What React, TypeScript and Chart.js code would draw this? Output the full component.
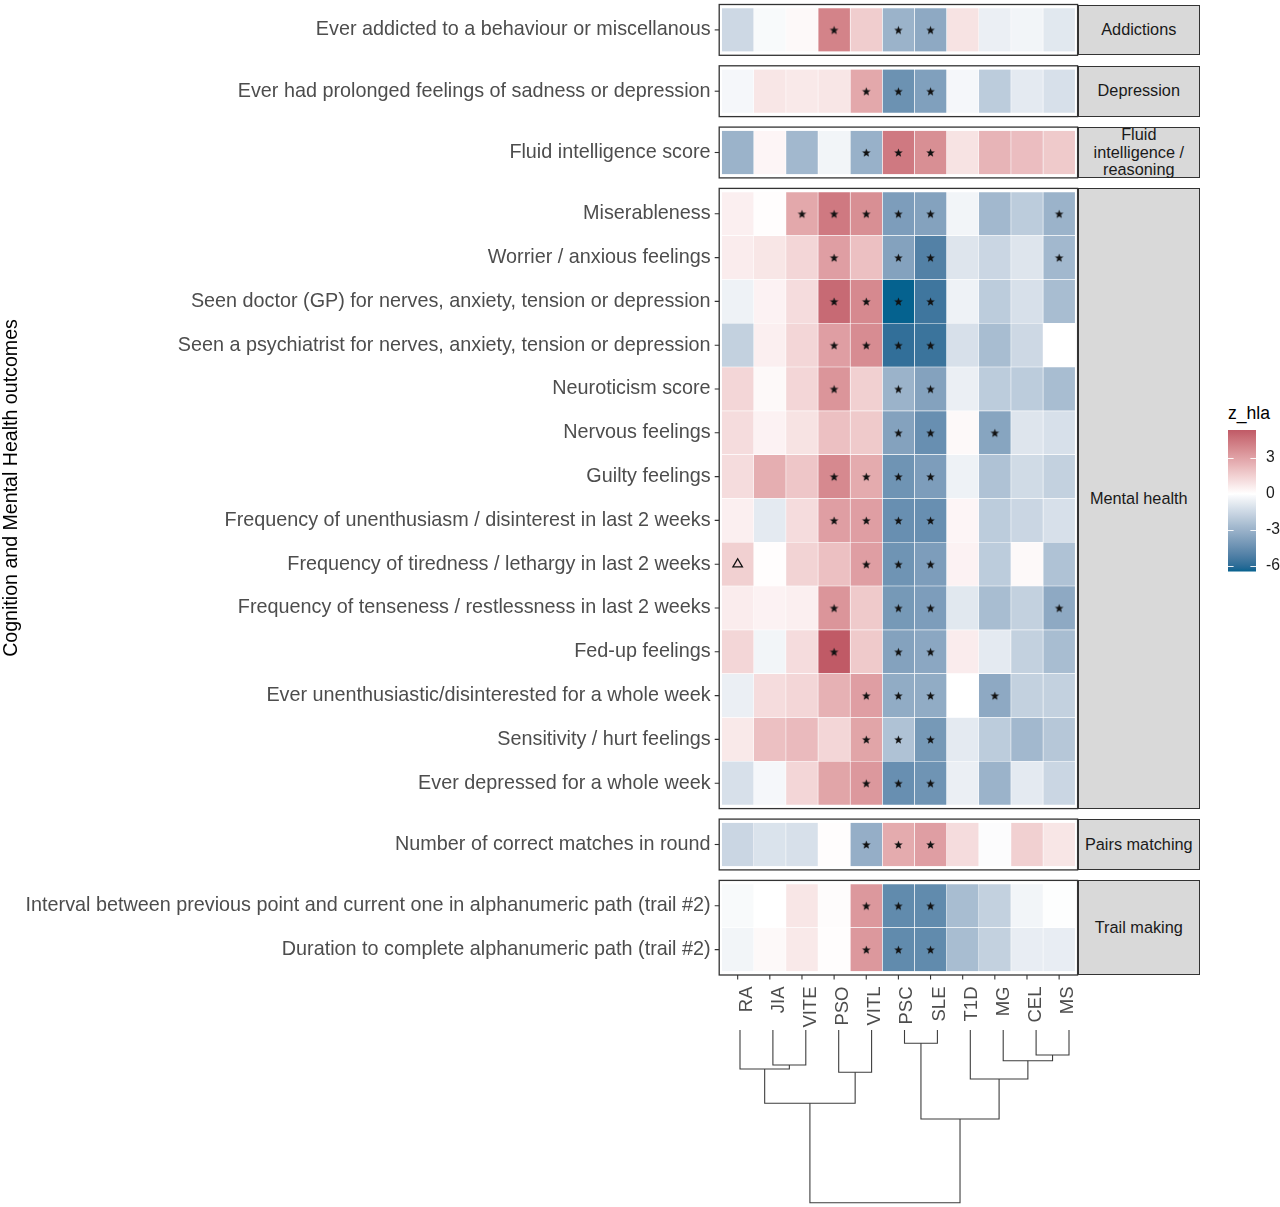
import React, { useEffect, useRef } from 'react';
import Chart from 'chart.js/auto';

const FONT = "'Liberation Sans', Arial, Helvetica, sans-serif";
Chart.defaults.font.family = FONT;

// ---------- data ----------
const DISEASES = ['RA', 'JIA', 'VITE', 'PSO', 'VITL', 'PSC', 'SLE', 'T1D', 'MG', 'CEL', 'MS'];

const ADDICTION_ROWS = ['Ever addicted to a behaviour or miscellanous'];
const ADDICTION_Z = [[-1.5, -0.2, 0.2, 4.0, 1.6, -3.0, -3.4, 0.9, -0.6, -0.4, -0.9]];
const ADDICTION_SIG = ['...*.**....'];

const DEPRESSION_ROWS = ['Ever had prolonged feelings of sadness or depression'];
const DEPRESSION_Z = [[-0.3, 0.8, 0.7, 0.8, 2.8, -4.4, -3.8, -0.3, -2.0, -0.8, -1.2]];
const DEPRESSION_SIG = ['....***....'];

const FLUID_ROWS = ['Fluid intelligence score'];
const FLUID_Z = [[-3.0, 0.3, -2.8, -0.4, -3.1, 4.3, 3.6, 0.9, 2.4, 2.1, 1.7]];
const FLUID_SIG = ['....***....'];

const MENTAL_ROWS = [
  'Miserableness',
  'Worrier / anxious feelings',
  'Seen doctor (GP) for nerves, anxiety, tension or depression',
  'Seen a psychiatrist for nerves, anxiety, tension or depression',
  'Neuroticism score',
  'Nervous feelings',
  'Guilty feelings',
  'Frequency of unenthusiasm / disinterest in last 2 weeks',
  'Frequency of tiredness / lethargy in last 2 weeks',
  'Frequency of tenseness / restlessness in last 2 weeks',
  'Fed-up feelings',
  'Ever unenthusiastic/disinterested for a whole week',
  'Sensitivity / hurt feelings',
  'Ever depressed for a whole week',
];
const MENTAL_Z = [
  [0.5, 0.05, 2.8, 4.3, 3.6, -3.9, -3.7, -0.4, -2.8, -2.0, -3.0],
  [0.6, 0.8, 1.3, 3.1, 2.0, -3.7, -5.1, -1.0, -1.6, -1.0, -2.8],
  [-0.5, 0.4, 1.1, 4.8, 3.8, -6.5, -5.6, -0.5, -2.0, -1.2, -2.6],
  [-1.8, 0.5, 1.3, 3.1, 3.7, -5.9, -5.7, -1.2, -2.6, -1.5, 0.0],
  [1.3, 0.2, 1.3, 3.4, 1.5, -3.0, -3.7, -0.6, -2.0, -2.0, -2.6],
  [1.1, 0.4, 0.9, 2.0, 1.7, -3.7, -4.5, 0.2, -3.6, -1.0, -1.2],
  [1.1, 2.6, 1.8, 3.8, 2.7, -4.3, -3.9, -0.5, -2.4, -1.4, -1.8],
  [0.5, -0.8, 1.1, 3.1, 3.1, -4.5, -4.5, 0.3, -2.0, -1.6, -1.2],
  [1.5, 0.05, 1.4, 2.0, 3.1, -4.3, -3.9, 0.4, -2.0, 0.2, -2.4],
  [0.6, 0.4, 0.5, 3.4, 1.7, -4.1, -3.9, -0.9, -2.6, -1.8, -3.4],
  [1.3, -0.4, 1.1, 5.3, 1.7, -3.7, -3.5, 0.6, -0.8, -1.8, -2.6],
  [-0.6, 1.1, 1.3, 2.5, 3.1, -3.3, -3.3, 0.0, -3.4, -1.8, -1.8],
  [0.7, 2.0, 2.2, 1.3, 2.9, -2.4, -4.1, -0.8, -2.0, -2.8, -2.2],
  [-1.2, -0.3, 1.3, 2.9, 3.3, -4.5, -4.3, -0.6, -3.0, -0.8, -1.6],
];
const MENTAL_SIG = [
  '..*****...*',
  '...*.**...*',
  '...****....',
  '...****....',
  '...*.**....',
  '.....**.*..',
  '...****....',
  '...****....',
  '^...***....',
  '...*.**...*',
  '...*.**....',
  '....***.*..',
  '....***....',
  '....***....',
];

const PAIRS_ROWS = ['Number of correct matches in round'];
const PAIRS_Z = [[-1.6, -1.1, -1.2, 0.05, -3.2, 2.7, 3.1, 1.1, -0.1, 1.5, 0.8]];
const PAIRS_SIG = ['....***....'];

const TRAIL_ROWS = [
  'Interval between previous point and current one in alphanumeric path (trail #2)',
  'Duration to complete alphanumeric path (trail #2)',
];
const TRAIL_Z = [
  [-0.2, 0.0, 0.8, 0.1, 3.3, -4.7, -4.7, -2.6, -1.8, -0.4, -0.05],
  [-0.4, 0.2, 0.7, 0.05, 3.3, -4.7, -4.7, -2.6, -1.8, -0.7, -0.7],
];
const TRAIL_SIG = ['....***....', '....***....'];

const STRIP_LABELS = ['Addictions', 'Depression', 'Fluid\nintelligence /\nreasoning', 'Mental health', 'Pairs matching', 'Trail making'];

// dendrogram (merge order, children, heights relative to root)
const DENDRO_A = ['JIA', 'RA', 'PSO', 'm2', 'PSC', 'CEL', 'MG', 'T1D', 'm5', 'm4'];
const DENDRO_B = ['VITE', 'm1', 'VITL', 'm3', 'SLE', 'MS', 'm6', 'm7', 'm8', 'm9'];
const DENDRO_H = [0.203, 0.226, 0.245, 0.424, 0.077, 0.145, 0.178, 0.284, 0.515, 1.0];

const LEGEND_TICKS = [3, 0, -3, -6];
const LEGEND_TITLE = 'z_hla';
const Y_TITLE = 'Cognition and Mental Health outcomes';

const PANELS = [
  { rows: ADDICTION_ROWS, z: ADDICTION_Z, sig: ADDICTION_SIG },
  { rows: DEPRESSION_ROWS, z: DEPRESSION_Z, sig: DEPRESSION_SIG },
  { rows: FLUID_ROWS, z: FLUID_Z, sig: FLUID_SIG },
  { rows: MENTAL_ROWS, z: MENTAL_Z, sig: MENTAL_SIG },
  { rows: PAIRS_ROWS, z: PAIRS_Z, sig: PAIRS_SIG },
  { rows: TRAIL_ROWS, z: TRAIL_Z, sig: TRAIL_SIG },
];

const ALL_Z = PANELS.flatMap((p) => p.z.flat());
const Z_MIN = Math.min(...ALL_Z);
const Z_MAX = Math.max(...ALL_Z);
const Z_LIM = Math.max(Math.abs(Z_MIN), Math.abs(Z_MAX));

// ---------- colour (Lab interpolation like ggplot gradient2) ----------
const LOW = '#05628F';
const MID = '#FFFFFF';
const HIGH = '#AC3048';

function hexRgb(h: string) {
  const n = parseInt(h.slice(1), 16);
  return [(n >> 16) & 255, (n >> 8) & 255, n & 255];
}
function toLin(c: number) { c /= 255; return c <= 0.04045 ? c / 12.92 : Math.pow((c + 0.055) / 1.055, 2.4); }
function fromLin(c: number) {
  const v = c <= 0.0031308 ? 12.92 * c : 1.055 * Math.pow(Math.max(c, 0), 1 / 2.4) - 0.055;
  return Math.round(Math.max(0, Math.min(1, v)) * 255);
}
function rgbLab(rgb: number[]) {
  const [r, g, b] = rgb.map(toLin);
  const X = (0.4124 * r + 0.3576 * g + 0.1805 * b) / 0.95047;
  const Y = 0.2126 * r + 0.7152 * g + 0.0722 * b;
  const Zc = (0.0193 * r + 0.1192 * g + 0.9505 * b) / 1.08883;
  const f = (t: number) => (t > 0.008856 ? Math.cbrt(t) : 7.787 * t + 16 / 116);
  const fx = f(X), fy = f(Y), fz = f(Zc);
  return [116 * fy - 16, 500 * (fx - fy), 200 * (fy - fz)];
}
function labRgb(lab: number[]) {
  const [L, a, b] = lab;
  const fy = (L + 16) / 116, fx = fy + a / 500, fz = fy - b / 200;
  const inv = (t: number) => (t > 0.206893 ? t * t * t : (t - 16 / 116) / 7.787);
  const X = inv(fx) * 0.95047, Y = inv(fy), Zc = inv(fz) * 1.08883;
  const r = 3.2406 * X - 1.5372 * Y - 0.4986 * Zc;
  const g = -0.9689 * X + 1.8758 * Y + 0.0415 * Zc;
  const bb = 0.0557 * X - 0.204 * Y + 1.057 * Zc;
  return `rgb(${fromLin(r)},${fromLin(g)},${fromLin(bb)})`;
}
const LOW_LAB = rgbLab(hexRgb(LOW));
const MID_LAB = rgbLab(hexRgb(MID));
const HIGH_LAB = rgbLab(hexRgb(HIGH));
function zColor(v: number) {
  const t = Math.max(-1, Math.min(1, v / Z_LIM));
  const end = t < 0 ? LOW_LAB : HIGH_LAB;
  const k = Math.abs(t);
  return labRgb(MID_LAB.map((m, i) => m + (end[i] - m) * k));
}

// ---------- layout constants ----------
const ROW_H = 43.8;
const PAD_Y = 3.5;
const PAD_X = 2.4;
const GAP = 10.5;
const FIRST_TOP = 4.5;
const TILE_L = 721.6;
const TILE_R = 1075.2;
const CANVAS_W = 1105;
const M_TOP = 30;
const X_AXIS_H = 58;
const STRIP_W = 122.4;

const PANEL_TOPS: number[] = [];
{
  let t = FIRST_TOP;
  PANELS.forEach((p) => { PANEL_TOPS.push(t); t += p.rows.length * ROW_H + 2 * PAD_Y + GAP; });
}

function makeStar() {
  const s = 11;
  const c = document.createElement('canvas');
  c.width = s; c.height = s;
  const x = c.getContext('2d')!;
  x.beginPath();
  for (let k = 0; k < 10; k++) {
    const r = k % 2 === 0 ? 4.5 : 1.9;
    const ang = -Math.PI / 2 + (k * Math.PI) / 5;
    const px = s / 2 + r * Math.cos(ang);
    const py = s / 2 + 0.5 + r * Math.sin(ang);
    if (k === 0) x.moveTo(px, py); else x.lineTo(px, py);
  }
  x.closePath();
  x.fillStyle = '#111';
  x.fill();
  return c;
}

function HeatPanel({ idx, showX }: { idx: number; showX: boolean }) {
  const ref = useRef<HTMLCanvasElement>(null);
  const spec = PANELS[idx];
  const n = spec.rows.length;
  const tileTop = PANEL_TOPS[idx] + PAD_Y;
  const canvasTop = Math.floor(tileTop - M_TOP);
  const padTop = tileTop - canvasTop;
  const canvasH = Math.ceil(padTop + n * ROW_H + (showX ? X_AXIS_H + 6 : M_TOP));
  const padBottom = canvasH - padTop - n * ROW_H - (showX ? X_AXIS_H : 0);

  useEffect(() => {
    const canvas = ref.current!;
    const star = makeStar();
    const starPts: any[] = [];
    const triPts: any[] = [];
    spec.sig.forEach((s, r) => {
      for (let c = 0; c < s.length; c++) {
        if (s[c] === '*') starPts.push({ x: c, y: spec.rows[r] });
        else if (s[c] === '^') triPts.push({ x: c, y: spec.rows[r] });
      }
    });
    const datasets: any[] = DISEASES.map((d, c) => ({
      type: 'bar',
      label: d,
      data: spec.rows.map(() => [c - 0.5, c + 0.5]),
      backgroundColor: spec.z.map((row) => zColor(row[c])),
      borderColor: '#ffffff',
      borderWidth: 0.6,
      borderSkipped: false,
      barPercentage: 1,
      categoryPercentage: 1,
      grouped: false,
      order: 2,
    }));
    datasets.push({ type: 'scatter', label: 'sig', data: starPts, pointStyle: star, pointRadius: 5, order: 0 });
    datasets.push({
      type: 'scatter', label: 'tri', data: triPts, pointStyle: 'triangle', pointRadius: 5.5,
      borderWidth: 1.3, borderColor: '#111', backgroundColor: 'rgba(0,0,0,0)', order: 0,
    });

    const frame = {
      id: 'frame',
      afterDraw(chart: any) {
        const { ctx, chartArea: a, scales } = chart;
        const L = a.left - PAD_X, R = a.right + PAD_X, T = a.top - PAD_Y, B = a.bottom + PAD_Y;
        ctx.save();
        ctx.strokeStyle = '#333333';
        ctx.lineWidth = 1.3;
        ctx.strokeRect(L, T, R - L, B - T);
        ctx.lineWidth = 1.1;
        ctx.beginPath();
        scales.y.ticks.forEach((_: any, i: number) => {
          const y = scales.y.getPixelForTick(i);
          ctx.moveTo(L - 4.5, y); ctx.lineTo(L, y);
        });
        if (showX) {
          scales.x.ticks.forEach((_: any, i: number) => {
            const x = scales.x.getPixelForTick(i);
            ctx.moveTo(x, B); ctx.lineTo(x, B + 4.5);
          });
        }
        ctx.stroke();
        ctx.restore();
      },
    };

    const chart = new Chart(canvas, {
      type: 'bar',
      data: { labels: spec.rows, datasets },
      options: {
        responsive: false,
        animation: false,
        events: [],
        indexAxis: 'y',
        layout: { padding: { top: padTop, bottom: padBottom, left: 0, right: CANVAS_W - TILE_R } },
        plugins: { legend: { display: false }, tooltip: { enabled: false } },
        scales: {
          x: {
            type: 'linear',
            min: -0.5,
            max: 10.5,
            display: showX,
            position: 'bottom',
            afterBuildTicks: (s: any) => { s.ticks = DISEASES.map((_, i) => ({ value: i })); },
            afterFit: showX ? (s: any) => { s.height = X_AXIS_H; } : undefined,
            grid: { display: false, drawTicks: false },
            border: { display: false },
            ticks: {
              autoSkip: false, minRotation: 90, maxRotation: 90, padding: 15, labelOffset: 9,
              font: { size: 18.5 }, color: '#4d4d4d',
              callback: (v: any) => DISEASES[v] ?? '',
            },
          },
          y: {
            type: 'category',
            labels: spec.rows,
            offset: true,
            afterFit: (s: any) => { s.width = TILE_L; },
            grid: { display: false, drawTicks: false },
            border: { display: false },
            ticks: { autoSkip: false, padding: 11, font: { size: 19.8 }, color: '#4d4d4d' },
          },
        },
      } as any,
      plugins: [frame],
    });
    return () => chart.destroy();
  }, []);

  return (
    <canvas
      ref={ref}
      width={CANVAS_W}
      height={canvasH}
      style={{ position: 'absolute', left: 0, top: canvasTop, width: CANVAS_W, height: canvasH }}
    />
  );
}

function Dendrogram() {
  const ref = useRef<HTMLCanvasElement>(null);
  const top = 1015;
  const h = 192;
  const areaTop = 1030;
  const areaBottom = 1202.7;
  const leafL = 740;
  const leafR = 1069;
  useEffect(() => {
    const nodes: { x: number; h: number }[] = [];
    const pos = (r: string) => (r.startsWith('m') ? nodes[+r.slice(1) - 1] : { x: DISEASES.indexOf(r), h: 0 });
    const datasets = DENDRO_A.map((a, k) => {
      const A = pos(a);
      const B = pos(DENDRO_B[k]);
      const hh = DENDRO_H[k];
      nodes.push({ x: (A.x + B.x) / 2, h: hh });
      return {
        data: [{ x: A.x, y: A.h }, { x: A.x, y: hh }, { x: B.x, y: hh }, { x: B.x, y: B.h }],
        borderColor: '#3d3d3d', borderWidth: 1.1, pointRadius: 0, tension: 0, fill: false, clip: 6,
      };
    });
    const chart = new Chart(ref.current!, {
      type: 'line',
      data: { datasets },
      options: {
        responsive: false, animation: false, events: [],
        layout: { padding: { left: leafL, right: CANVAS_W - leafR, top: areaTop - top, bottom: top + h - areaBottom } },
        plugins: { legend: { display: false }, tooltip: { enabled: false } },
        scales: {
          x: { type: 'linear', min: 0, max: 10, display: false },
          y: { type: 'linear', min: 0, max: 1, reverse: true, display: false },
        },
      } as any,
    });
    return () => chart.destroy();
  }, []);
  return <canvas ref={ref} width={CANVAS_W} height={h} style={{ position: 'absolute', left: 0, top, width: CANVAS_W, height: h }} />;
}

function Legend() {
  const ref = useRef<HTMLCanvasElement>(null);
  const left = 1200, top = 400, w = 80, h = 202;
  const barL = 1228, barW = 28, barTop = 430;
  const pxPerUnit = 12;
  useEffect(() => {
    const barH = (Z_MAX - Z_MIN) * pxPerUnit;
    const ticksPlugin = {
      id: 'cbticks',
      afterDatasetsDraw(chart: any) {
        const { ctx, chartArea: a, scales } = chart;
        ctx.save();
        ctx.strokeStyle = 'rgba(255,255,255,0.9)';
        ctx.lineWidth = 1;
        ctx.beginPath();
        scales.y.ticks.forEach((_: any, i: number) => {
          const y = Math.round(scales.y.getPixelForTick(i)) + 0.5;
          const tl = (a.right - a.left) / 5;
          ctx.moveTo(a.left, y); ctx.lineTo(a.left + tl, y);
          ctx.moveTo(a.right - tl, y); ctx.lineTo(a.right, y);
        });
        ctx.stroke();
        ctx.restore();
      },
    };
    const chart = new Chart(ref.current!, {
      type: 'bar',
      data: {
        labels: [LEGEND_TITLE],
        datasets: [{
          data: [[Z_MIN, Z_MAX]],
          backgroundColor: (c: any) => {
            const chart = c.chart;
            if (!chart.chartArea) return '#fff';
            const y = chart.scales.y;
            const g = chart.ctx.createLinearGradient(0, y.getPixelForValue(Z_MIN), 0, y.getPixelForValue(Z_MAX));
            for (let k = 0; k <= 40; k++) g.addColorStop(k / 40, zColor(Z_MIN + ((Z_MAX - Z_MIN) * k) / 40));
            return g;
          },
          borderWidth: 0, borderSkipped: false, barPercentage: 1, categoryPercentage: 1,
        }],
      },
      options: {
        responsive: false, animation: false, events: [],
        layout: { padding: { left: barL - left, top: barTop - top, bottom: h - (barTop - top) - barH, right: 0 } },
        plugins: { legend: { display: false }, tooltip: { enabled: false } },
        scales: {
          x: { type: 'category', display: false, offset: true },
          y: {
            type: 'linear', position: 'right', min: Z_MIN, max: Z_MAX,
            afterBuildTicks: (s: any) => { s.ticks = LEGEND_TICKS.map((v) => ({ value: v })); },
            afterFit: (s: any) => { s.width = w - (barL - left) - barW; },
            grid: { display: false, drawTicks: false }, border: { display: false },
            ticks: { padding: 10, font: { size: 15.7 }, color: '#1a1a1a', callback: (v: any) => String(v) },
          },
        },
      } as any,
      plugins: [ticksPlugin],
    });
    return () => chart.destroy();
  }, []);
  return <canvas ref={ref} width={w} height={h} style={{ position: 'absolute', left, top, width: w, height: h }} />;
}

export default function App() {
  return (
    <div style={{ position: 'absolute', left: 0, top: 0, width: 1280, height: 1207, background: '#ffffff', fontFamily: FONT, overflow: 'hidden' }}>
      {PANELS.map((p, i) => (
        <div
          key={'s' + i}
          style={{
            position: 'absolute', left: TILE_R + PAD_X, top: PANEL_TOPS[i], width: STRIP_W,
            height: p.rows.length * ROW_H + 2 * PAD_Y, background: '#d9d9d9', border: '1.3px solid #333',
            boxSizing: 'border-box', display: 'flex', alignItems: 'center', justifyContent: 'center',
            textAlign: 'center', fontSize: 16.3, lineHeight: '17.5px', color: '#1a1a1a', whiteSpace: 'pre-line',
          }}
        >
          {STRIP_LABELS[i]}
        </div>
      ))}
      {PANELS.map((_, i) => (
        <HeatPanel key={'p' + i} idx={i} showX={i === PANELS.length - 1} />
      ))}
      <Dendrogram />
      <div style={{ position: 'absolute', left: 1228, top: 403, fontSize: 17.6, lineHeight: '20px', color: '#000' }}>{LEGEND_TITLE}</div>
      <Legend />
      <div
        style={{
          position: 'absolute', left: 10 - 250, top: 488 - 12, width: 500, height: 24, lineHeight: '24px',
          textAlign: 'center', fontSize: 19.6, color: '#000', transform: 'rotate(-90deg)',
        }}
      >
        {Y_TITLE}
      </div>
    </div>
  );
}
